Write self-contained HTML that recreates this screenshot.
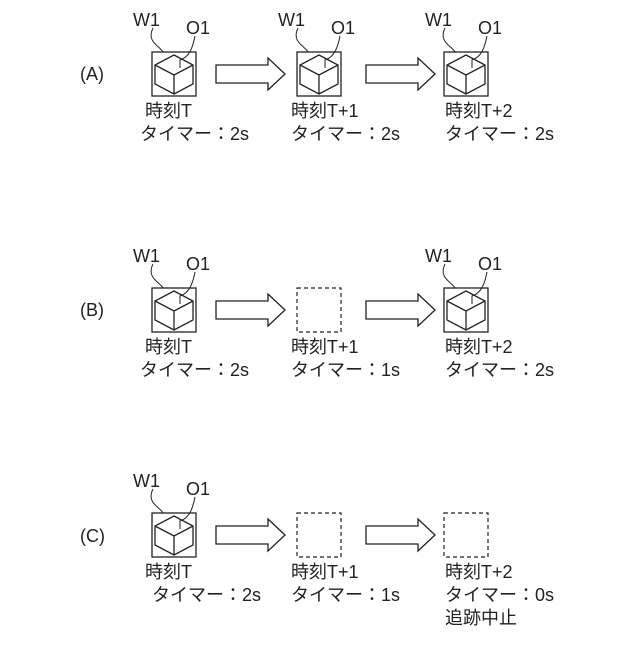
<!DOCTYPE html>
<html><head><meta charset="utf-8"><style>
body{margin:0;background:#fff}
svg text{font-family:"Liberation Sans","Noto Sans CJK JP",sans-serif;font-size:18px;fill:#222}
</style></head><body>
<svg width="640" height="640" viewBox="0 0 640 640" xmlns="http://www.w3.org/2000/svg">
<defs>
<g id="obj" fill="none" stroke="#222" stroke-width="1.3">
<rect x="0" y="0" width="44" height="44"/>
<path d="M22 3 L41 13 L41 32 L22 42 L3 32 L3 13 Z M3 13 L22 23 L41 13 M22 23 L22 42"/>
<path d="M1 -24 C-6 -10 8 -6 11 0" stroke-width="1"/>
<path d="M43 -16 C41 -6 38 5 28 8 L28 16" stroke-width="1"/>
</g>
<g id="arr" fill="#fff" stroke="#222" stroke-width="1.3">
<path d="M0 7 L52 7 L52 0 L69 16 L52 32 L52 25 L0 25 Z"/>
</g>
<rect id="dash" x="0" y="0" width="44" height="44" fill="none" stroke="#222" stroke-width="1.2" stroke-dasharray="4,3"/>
</defs>

<!-- A -->
<text x="80" y="80">(A)</text>
<use href="#obj" x="152" y="52"/><text x="133" y="26">W1</text><text x="186" y="34">O1</text>
<use href="#arr" x="216" y="58"/>
<use href="#obj" x="297" y="52"/><text x="278" y="26">W1</text><text x="331" y="34">O1</text>
<use href="#arr" x="366" y="58"/>
<use href="#obj" x="444" y="52"/><text x="425" y="26">W1</text><text x="478" y="34">O1</text>
<text x="145" y="117">時刻T</text><text x="140" y="140">タイマー：2s</text>
<text x="291" y="117">時刻T+1</text><text x="291" y="140">タイマー：2s</text>
<text x="445" y="117">時刻T+2</text><text x="445" y="140">タイマー：2s</text>

<!-- B -->
<text x="80" y="316">(B)</text>
<use href="#obj" x="152" y="288"/><text x="133" y="262">W1</text><text x="186" y="270">O1</text>
<use href="#arr" x="216" y="294"/>
<use href="#dash" x="297" y="288"/>
<use href="#arr" x="366" y="294"/>
<use href="#obj" x="444" y="288"/><text x="425" y="262">W1</text><text x="478" y="270">O1</text>
<text x="145" y="353">時刻T</text><text x="140" y="376">タイマー：2s</text>
<text x="291" y="353">時刻T+1</text><text x="291" y="376">タイマー：1s</text>
<text x="445" y="353">時刻T+2</text><text x="445" y="376">タイマー：2s</text>

<!-- C -->
<text x="80" y="542">(C)</text>
<use href="#obj" x="152" y="513"/><text x="133" y="487">W1</text><text x="186" y="495">O1</text>
<use href="#arr" x="216" y="519"/>
<use href="#dash" x="297" y="513"/>
<use href="#arr" x="366" y="519"/>
<use href="#dash" x="444" y="513"/>
<text x="145" y="578">時刻T</text><text x="152" y="601">タイマー：2s</text>
<text x="291" y="578">時刻T+1</text><text x="291" y="601">タイマー：1s</text>
<text x="445" y="578">時刻T+2</text><text x="445" y="601">タイマー：0s</text>
<text x="445" y="624">追跡中止</text>
</svg>
</body></html>
